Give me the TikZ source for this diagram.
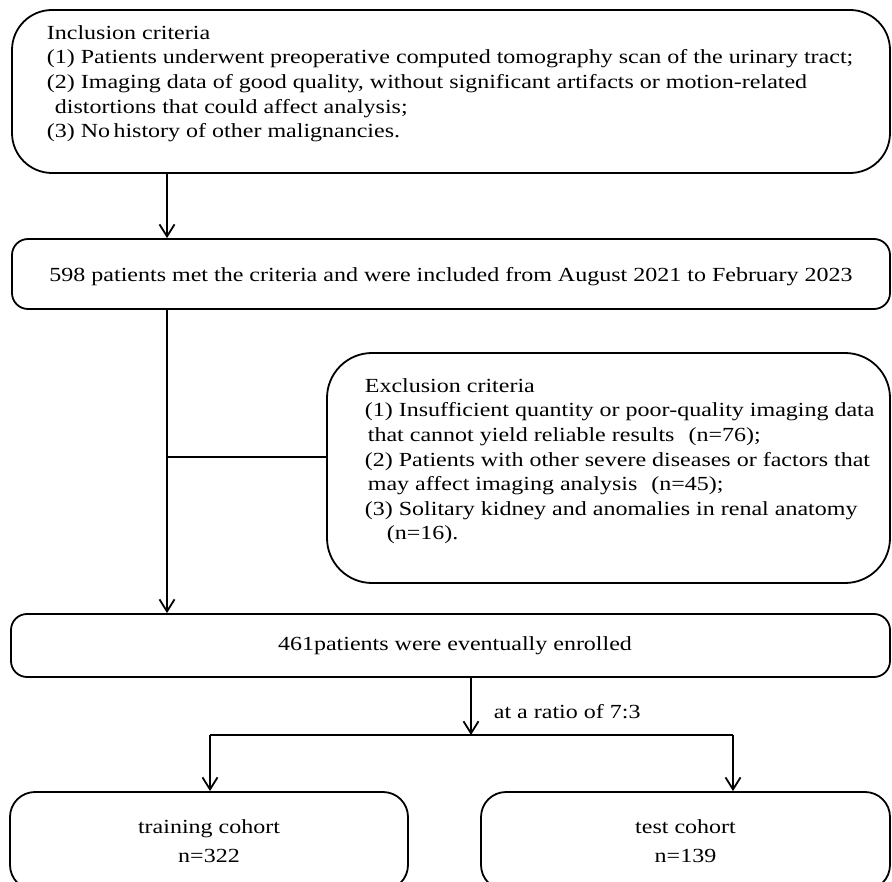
\documentclass[tikz,border=0pt]{standalone}
\usepackage{fontspec}
\setmainfont{Liberation Serif}[FakeStretch=1.2]
\usetikzlibrary{arrows.meta}

\begin{document}
\begin{tikzpicture}[x=1pt, y=-1pt, line width=1.8pt,
    every node/.style={font=\fontsize{20}{24.6}\selectfont},
    box/.style={draw, rounded corners=#1, inner sep=0pt},
    box/.default=16pt,
    txt/.style={align=left, inner sep=0pt, anchor=north west},
    arr/.style={-{Straight Barb[length=12pt,width=15pt]}}]
    \clip (0,0) rectangle (892,882);

    % Boxes
    \node[box=40pt, minimum width=878pt, minimum height=163pt] (incl) at (451,91.5) {};
    \node[txt] (incltext) at (46,24.5) {Inclusion criteria\\
        (1) Patients underwent preoperative computed tomography scan of the urinary tract;\\
        (2) Imaging data of good quality, without significant artifacts or motion-related\\
        \hspace{0.4em}distortions that could affect analysis;\\
        (3) No\,history of other malignancies.};
    \node[box, minimum width=878pt, minimum height=70pt, text height=20pt, text depth=4.3pt] (n598) at (451,274)
        {598 patients met the criteria and were included from August 2021 to February 2023\hspace{21pt}};
    \node[box=45pt, minimum width=563pt, minimum height=230pt] (excl) at (608.5,468) {};
    \node[txt] (excltext) at (364,377.5) {Exclusion criteria\\
        (1) Insufficient quantity or poor-quality imaging data\\
        \hspace{0.15em}that cannot yield reliable results\hspace{0.7em}(n=76);\\
        (2) Patients with other severe diseases or factors that\\
        \hspace{0.15em}may affect imaging analysis\hspace{0.7em}(n=45);\\
        (3) Solitary kidney and anomalies in renal anatomy\\
        \hspace{1.1em}(n=16).};
    \node[box, minimum width=879pt, minimum height=63pt] (n461) at (450.5,645.5)
        {\hspace{9pt}461patients were eventually enrolled};
    \node[box=25pt, minimum width=398pt, minimum height=98pt, align=center] (train) at (209,841)
        {training cohort\\[4pt] n=322};
    \node[box=25pt, minimum width=409pt, minimum height=98pt, align=center] (test) at (685.5,841)
        {test cohort\\[4pt] n=139};

    % Connectors
    \coordinate (join) at (167,457);
    \coordinate (lbr) at (210,735);
    \coordinate (rbr) at (733,735);
    \coordinate (split) at (471,735);
    \draw[arr] (incl.south -| join) -- (n598.north -| join);
    \draw[arr] (n598.south -| join) -- (n461.north -| join);
    \draw (join) -- (join -| excl.west);
    \draw[arr] (n461.south -| split) -- (split);
    \node[anchor=base west, inner sep=0pt] (ratio) at (493,718) {at a ratio of 7:3};
    \draw (lbr) -- (rbr);
    \draw[arr] (lbr) -- (lbr |- train.north);
    \draw[arr] (rbr) -- (rbr |- test.north);
\end{tikzpicture}
\end{document}
